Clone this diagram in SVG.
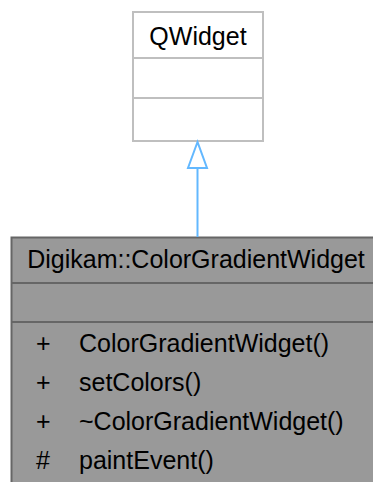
<svg xmlns="http://www.w3.org/2000/svg" width="373" height="482" viewBox="0 0 373 482">
<style>
text{font-family:"Liberation Sans",Arial,Helvetica,sans-serif;font-size:25px;fill:#000}
.base{fill:#fff;stroke:#bfbfbf;stroke-width:2}
.cls{fill:#999;stroke:#666;stroke-width:2}
.edge{stroke:#63b8ff;stroke-width:2;fill:none}
</style>
<rect width="373" height="482" fill="#fff"/>
<g id="QWidget">
<rect class="base" x="133" y="12" width="130" height="129"/>
<line class="base" x1="133" y1="58" x2="263" y2="58"/>
<line class="base" x1="133" y1="98" x2="263" y2="98"/>
<text x="198" y="45" text-anchor="middle">QWidget</text>
</g>
<g id="ColorGradientWidget">
<rect class="cls" x="11.5" y="237.5" width="380" height="260"/>
<line class="cls" x1="11.5" y1="283" x2="380" y2="283"/>
<line class="cls" x1="11.5" y1="322" x2="380" y2="322"/>
<text x="196" y="268" text-anchor="middle">Digikam::ColorGradientWidget</text>
<text x="36" y="352">+</text><text x="79" y="352">ColorGradientWidget()</text>
<text x="36" y="391">+</text><text x="79" y="391">setColors()</text>
<text x="36" y="430">+</text><text x="79" y="430">~ColorGradientWidget()</text>
<text x="36" y="469">#</text><text x="79" y="469">paintEvent()</text>
</g>
<g id="connectors">
<line class="edge" x1="197.5" y1="237" x2="197.5" y2="168"/>
<polygon class="edge" points="197.5,142 188,168 207,168"/>
</g>
</svg>
